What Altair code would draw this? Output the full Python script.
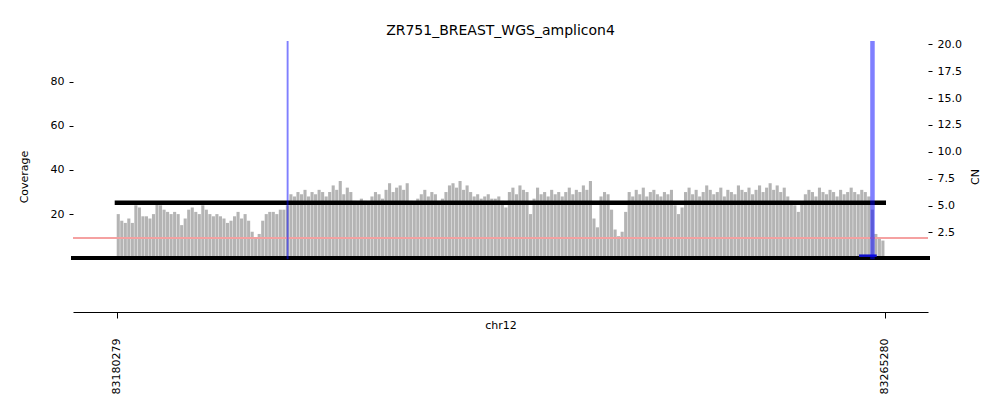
import altair as alt
import pandas as pd

# ---- data ----
title_text = "ZR751_BREAST_WGS_amplicon4"
chrom = "chr12"
x_ticks = [83180279, 83265280]
bin_start = 83180279
bin_bp = 390
coverage = [
    20, 17, 16, 18, 16, 24, 23, 19, 19, 18, 20, 25, 24, 22, 21, 20, 21, 20, 15,
    18, 22, 23, 21, 20, 24, 22, 20, 19, 20, 19, 18, 16, 17, 19, 21, 18, 20, 17,
    12, 9, 11, 17, 20, 21, 21, 20, 22, 22, 24,
    29, 28, 30, 29, 31, 28, 30, 29, 31, 30, 28, 30, 33, 31, 35, 29, 32, 30,
    26, 25, 27, 26, 25, 28, 30, 29, 27, 31, 34, 30, 32, 33, 31, 34, 26, 25, 27,
    29, 31, 28, 30, 29, 26, 27, 30, 33, 34, 32, 35, 31, 33, 30,
    28, 29, 27, 28, 29, 27, 27, 28, 26, 23, 30, 32, 29, 33, 31, 30, 20, 27,
    32, 29, 30, 28, 31, 29, 30, 28, 30, 32, 29, 31, 30, 33, 31, 35, 18, 14,
    28, 30, 29, 22, 13, 10, 12, 21,
    30, 28, 31, 29, 32, 28, 30, 31, 29, 28, 30, 29, 31, 24, 20, 23,
    30, 32, 29, 31, 28, 30, 33, 31, 29, 30, 32, 28, 31, 30, 29, 33, 31, 30, 32, 29,
    31, 33, 30, 32, 34, 31, 33, 30, 32, 28, 26, 24, 21, 25,
    29, 31, 30, 28, 32, 30, 29, 31, 30, 28, 31, 29, 30, 32, 30, 29, 31, 30,
    28, 22, 11, 9, 8,
]
seg_start = [83180058, 83262436]
seg_end = [83265424, 83264396]
seg_cn = [5.25, 0.33]
seg_color = ["#000000", "#1010cc"]
seg_width = [4.5, 2.5]
span_start = [83199090, 83263677]
span_end = [83199300, 83264175]
span_cn_top = [20.31, 20.31]
neutral_cn = 2
cov_ticks = [20, 40, 60, 80]
cn_ticks = [2.5, 5, 7.5, 10, 12.5, 15, 17.5, 20]

x_domain = [83175442, 83270072]
cov_domain = [-24.4, 98.5]
cn_domain = [-4.91, 20.31]

FONT = "DejaVu Sans"

cov_df = pd.DataFrame({
    "start": [bin_start + i * bin_bp for i in range(len(coverage))],
    "coverage": coverage,
})
cov_df["end"] = cov_df["start"] + int(bin_bp * 0.88)

seg_df = pd.DataFrame({"start": seg_start, "end": seg_end, "cn": seg_cn,
                       "color": seg_color, "w": seg_width})
span_df = pd.DataFrame({"start": span_start, "end": span_end, "top": span_cn_top})

xscale = alt.Scale(domain=x_domain, nice=False, zero=False)
cov_scale = alt.Scale(domain=cov_domain, nice=False, zero=False)
cn_scale = alt.Scale(domain=cn_domain, nice=False, zero=False)

x_axis = alt.Axis(values=x_ticks, format="d", labelAngle=270, tickSize=6,
                  labelPadding=20, title=chrom, titleY=7, titleBaseline="top",
                  grid=False, domainColor="black", domainWidth=1.1,
                  tickColor="black", labelColor="black", titleColor="black",
                  labelFontSize=11, titleFontSize=11, titleFontWeight="normal",
                  labelFont=FONT, titleFont=FONT, labelOverlap=False)

cov_axis = alt.Axis(values=cov_ticks, title="Coverage", tickSize=4,
                    labelPadding=5, domain=False, grid=False,
                    titlePadding=21, tickColor="black",
                    labelColor="black", titleColor="#000000",
                    labelFontSize=11, titleFontSize=11,
                    titleFontWeight="normal", labelFont=FONT,
                    titleFont=FONT, labelOverlap=False)

cn_axis = alt.Axis(values=cn_ticks, format=".1f", orient="right",
                   title="CN", titleAngle=270, titleBaseline="top",
                   tickSize=4, labelPadding=5, domain=False,
                   grid=False, titlePadding=8, tickColor="black",
                   labelColor="black", titleColor="black",
                   labelFontSize=11, titleFontSize=11,
                   titleFontWeight="normal", labelFont=FONT,
                   titleFont=FONT, labelOverlap=False)

bars = alt.Chart(cov_df).mark_rect(color="#b4b4b4", clip=True).encode(
    x=alt.X("start:Q", scale=xscale, axis=x_axis),
    x2="end:Q",
    y=alt.Y("coverage:Q", scale=cov_scale, axis=cov_axis),
    y2=alt.datum(0),
)

spine = alt.Chart(cov_df).mark_rule(color="black", strokeWidth=3,
                                    strokeCap="square").encode(
    y=alt.datum(0, scale=cov_scale, axis=cov_axis)
)

cov_layer = alt.layer(bars, spine)

segs = alt.Chart(seg_df).mark_rule(clip=True).encode(
    x=alt.X("start:Q", scale=xscale, axis=x_axis),
    x2="end:Q",
    y=alt.Y("cn:Q", scale=cn_scale, axis=cn_axis),
    color=alt.Color("color:N", scale=None),
    strokeWidth=alt.StrokeWidth("w:Q", scale=None),
)

neutral = alt.Chart(cov_df).mark_rule(color="#f4a3a3", strokeWidth=0.9).encode(
    y=alt.datum(neutral_cn, scale=cn_scale, axis=cn_axis)
)

spans = alt.Chart(span_df).mark_rect(color="#0000ff", opacity=0.5, clip=True).encode(
    x=alt.X("start:Q", scale=xscale, axis=x_axis),
    x2="end:Q",
    y=alt.Y("top:Q", scale=cn_scale, axis=cn_axis),
    y2=alt.datum(0),
)

cn_layer = alt.layer(segs, neutral, spans)

chart = alt.layer(cov_layer, cn_layer).resolve_scale(y="independent").properties(
    width=855, height=271,
    title=alt.TitleParams(title_text, font=FONT, fontSize=14, fontWeight="normal",
                          color="black", anchor="middle", baseline="bottom",
                          offset=4, dy=18),
    padding={"left": 65, "top": 33, "right": 64, "bottom": 90},
    autosize=alt.AutoSizeParams(type="none"),
).configure_view(strokeWidth=0)

chart.save("out.html", embed_options={"renderer": "svg", "actions": False})
